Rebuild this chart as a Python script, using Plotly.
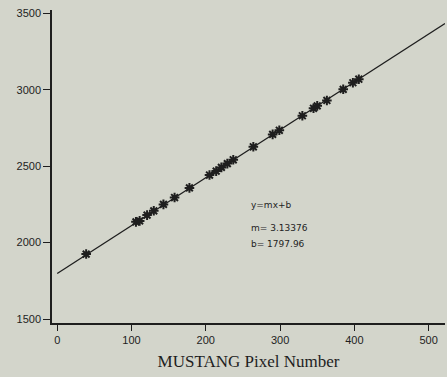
import plotly.graph_objects as go

# Measured points (MUSTANG pixel number vs. value)
pixel_x = [39, 106, 111, 121, 130, 143, 158, 178, 205, 214, 221, 229, 237,
           264, 290, 299, 330, 345, 350, 363, 385, 398, 406]
value_y = [1925, 2136, 2142, 2180, 2208, 2250, 2295, 2358, 2442, 2468, 2492,
           2517, 2542, 2627, 2708, 2735, 2830, 2879, 2895, 2930, 3003, 3046, 3069]

# Fitted line endpoints (y = m x + b)
fit_x = [0, 522]
fit_y = [1798, 3434]

x_ticks = [0, 100, 200, 300, 400, 500]
y_ticks = [1500, 2000, 2500, 3000, 3500]
y_tick_text = ["1500", "2000", "2500", "3000", "3500"]

notes = ["y=mx+b", "m= 3.13376", "b= 1797.96"]
note_y = [2245, 2095, 1990]

bg = "#d3d5cb"
ink = "#1e1e1e"

fig = go.Figure()
fig.add_trace(go.Scatter(x=fit_x, y=fit_y, mode="lines",
                         line=dict(color=ink, width=1.3), cliponaxis=False,
                         hoverinfo="skip", showlegend=False))
fig.add_trace(go.Scatter(x=pixel_x, y=value_y, mode="markers",
                         marker=dict(symbol="asterisk-open", size=8, color=ink,
                                     line=dict(color=ink, width=2)),
                         showlegend=False))

for t, yy in zip(notes, note_y):
    fig.add_annotation(x=258, y=yy, text=t, showarrow=False,
                       xanchor="left", yanchor="middle",
                       font=dict(family="DejaVu Sans", size=9, color=ink))

fig.update_layout(
    width=447, height=377,
    margin=dict(l=52, r=2, t=10, b=54),
    paper_bgcolor=bg, plot_bgcolor=bg,
    font=dict(family="Liberation Sans", size=11, color=ink),
)
fig.update_xaxes(range=[-7, 522], tickvals=x_ticks, showgrid=False, zeroline=False,
                 showline=True, linecolor=ink, linewidth=1.5,
                 ticks="outside", ticklen=6, tickcolor=ink, tickwidth=1.3,
                 title=dict(text="MUSTANG Pixel Number", standoff=10,
                            font=dict(family="Liberation Serif", size=17, color=ink)))
fig.update_yaxes(range=[1474, 3522], tickvals=y_ticks, ticktext=y_tick_text,
                 showgrid=False, zeroline=False,
                 showline=True, linecolor=ink, linewidth=1.5,
                 ticks="outside", ticklen=7, tickcolor=ink, tickwidth=1.3)

fig.write_html("out.html")
